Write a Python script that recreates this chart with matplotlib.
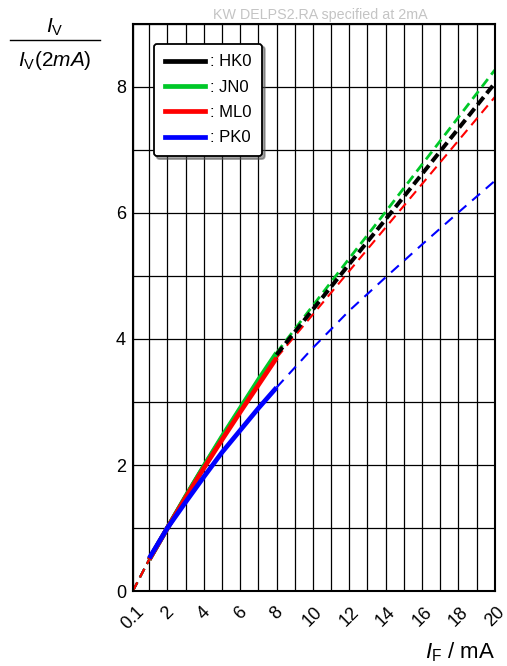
import numpy as np
import matplotlib
matplotlib.use('Agg')
import matplotlib.pyplot as plt
from matplotlib.lines import Line2D

plt.rcParams['font.family'] = ['Liberation Sans', 'DejaVu Sans']
plt.rcParams['mathtext.fontset'] = 'custom'
plt.rcParams['mathtext.rm'] = 'Liberation Sans'
plt.rcParams['mathtext.it'] = 'Liberation Sans:italic'
plt.rcParams['lines.scale_dashes'] = False

# data (relative intensity vs forward current)
names = [': HK0', ': JN0', ': ML0', ': PK0']
colors = ['black', '#00c828', '#ff0000', '#0000ff']

x_low = [0.1, 1]
y_low = [0.0, 0.5]

x_solid = [1, 2, 3, 4, 5, 6, 7, 8]
hk0_solid = [0.50, 1.0, 1.49, 1.97, 2.43, 2.88, 3.32, 3.75]
jn0_solid = [0.50, 1.0, 1.50, 1.98, 2.45, 2.90, 3.35, 3.78]
ml0_solid = [0.50, 1.0, 1.48, 1.95, 2.40, 2.84, 3.27, 3.70]
pk0_solid = [0.52, 1.0, 1.41, 1.81, 2.20, 2.55, 2.90, 3.23]

x_dash = [8, 10, 12, 14, 16, 18, 20]
hk0_dash = [3.75, 4.47, 5.19, 5.90, 6.62, 7.34, 8.06]
jn0_dash = [3.78, 4.53, 5.28, 6.02, 6.77, 7.52, 8.27]
ml0_dash = [3.70, 4.39, 5.08, 5.77, 6.46, 7.15, 7.84]
pk0_dash = [3.23, 3.86, 4.45, 4.98, 5.50, 6.01, 6.51]

xtick_pos = [0.1, 2, 4, 6, 8, 10, 12, 14, 16, 18, 20]
xtick_lab = ['0.1', '2', '4', '6', '8', '10', '12', '14', '16', '18', '20']
ytick_pos = [0, 2, 4, 6, 8]

solids = [hk0_solid, jn0_solid, ml0_solid, pk0_solid]
dashed = [hk0_dash, jn0_dash, ml0_dash, pk0_dash]
dash_lw = [2.9, 2.0, 1.5, 1.5]
dash_pat = [(7, 3.5), (7, 4), (7, 4.5), (7.5, 5.5)]
dash_z = [6, 5, 4, 4]

fig = plt.figure(figsize=(5.07, 6.66), dpi=100)
ax = fig.add_axes([0.262, 0.1126, 0.714, 0.8514])
ax.set_xlim(0.1, 20)
ax.set_ylim(0, 9)

# grid
for gx in [0.1] + list(range(1, 21)):
    ax.axvline(gx, color='black', lw=0.9, zorder=1)
for gy in range(0, 10):
    ax.axhline(gy, color='black', lw=0.9, zorder=1)

# low-current dashed part
for i in [3, 0, 1, 2]:
    ax.plot(x_low, y_low, color=colors[i], lw=1.6, dashes=(7, 4), zorder=3)

for i in range(4):
    ax.plot(x_solid, solids[i], color=colors[i], lw=3.4,
            solid_capstyle='butt', zorder=4 + i)
    ax.plot(x_dash, dashed[i], color=colors[i], lw=dash_lw[i],
            dashes=dash_pat[i], zorder=dash_z[i])

for s in ax.spines.values():
    s.set_linewidth(1.5)
    s.set_zorder(10)

ax.set_xticks(xtick_pos)
ax.set_xticklabels(xtick_lab, rotation=45, ha='center', va='top')
ax.set_yticks(ytick_pos)
ax.tick_params(axis='both', length=0, labelsize=13)
ax.tick_params(axis='x', pad=9)
ax.tick_params(axis='y', pad=5)

leg_handles = [Line2D([0], [0], color=c, lw=3.4) for c in colors]
leg = ax.legend(leg_handles, names, loc='upper left',
                bbox_to_anchor=(0.035, 0.98), fontsize=12,
                handlelength=2.4, handletextpad=0.3, labelspacing=0.62,
                borderpad=0.65, framealpha=1, shadow=True, fancybox=True,
                edgecolor='black')
leg.get_frame().set_linewidth(1.3)
leg.set_zorder(20)

# title and axis labels
fig.text(0.632, 0.978, 'KW DELPS2.RA specified at 2mA', color='#c4c4c4',
         fontsize=10.3, ha='center', va='center')
fig.text(55 / 507, 1 - 27 / 666, r'$I_\mathrm{V}$', fontsize=15,
         ha='center', va='center')
fig.add_artist(Line2D([10 / 507, 100 / 507], [1 - 40 / 666, 1 - 40 / 666],
                      color='black', lw=1.0, transform=fig.transFigure))
fig.text(55 / 507, 1 - 61 / 666, r'$I_\mathrm{V}(2mA)$', fontsize=15,
         ha='center', va='center')
fig.text(495 / 507, 1 - 652 / 666, r'$I_\mathrm{F}$ / mA', fontsize=16,
         ha='right', va='center')

fig.savefig('out.png', dpi=100)
